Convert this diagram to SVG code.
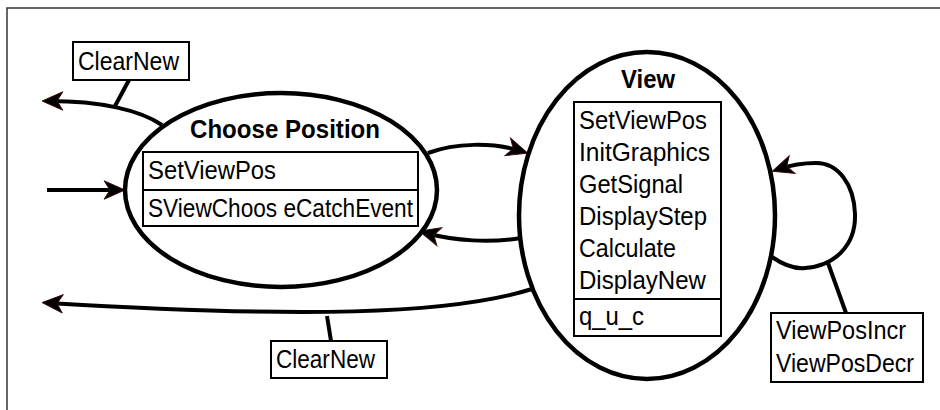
<svg xmlns="http://www.w3.org/2000/svg" width="940" height="410" viewBox="0 0 940 410">
<style>
.st{fill:#fff;stroke:#000;stroke-width:4.5}
.bx{fill:#fff;stroke:#000;stroke-width:2}
.t{font-family:"Liberation Sans",Arial,sans-serif;font-size:26px;fill:#000}
.h{font-family:"Liberation Sans",Arial,sans-serif;font-size:26px;font-weight:bold;fill:#000}
.c{fill:none;stroke:#000;stroke-width:4}
.l{fill:none;stroke:#000;stroke-width:4}
</style>
<defs>
<marker id="ah" markerUnits="userSpaceOnUse" orient="auto" markerWidth="30" markerHeight="30" refX="0" refY="0" viewBox="-16 -10 26 20" overflow="visible">
<path d="M6,0 L-12,-8 L-7,0 L-12,8 Z" fill="#000" stroke="#3a0808" stroke-width="0.8"/>
</marker>
</defs>
<rect x="7" y="8" width="960" height="440" fill="#fff" stroke="#333" stroke-width="1.5"/>
<g id="connectors">
<path class="c" d="M162,125 C140,110 100,101 49,101" marker-end="url(#ah)"/>
<path class="l" d="M129,80 L115,106"/>
<path class="c" d="M47,190 L118,190" marker-end="url(#ah)"/>
<path class="c" d="M428,153 C455,143 492,142 521,151" marker-end="url(#ah)"/>
<path class="c" d="M521,238 C490,243 455,241 426,233" marker-end="url(#ah)"/>
<path class="c" d="M532,289 C450,315 300,318 49,303" marker-end="url(#ah)"/>
<path class="l" d="M327,316 L331,341"/>
<path class="c" d="M772,257 C785,266 795,269 805,268 C835,266 856,245 855,214 C854,184 838,163 816,163 C800,163 788,166 779,169" marker-end="url(#ah)"/>
<path class="l" d="M828,263 L846,313"/>
</g>
<g id="choose-position">
<ellipse class="st" cx="281" cy="190" rx="156" ry="97"/>
<text class="h" x="285" y="138" text-anchor="middle" textLength="190" lengthAdjust="spacingAndGlyphs">Choose Position</text>
<rect class="bx" x="143" y="152" width="275" height="74"/>
<line x1="143" y1="190" x2="418" y2="190" stroke="#000" stroke-width="2"/>
<text class="t" x="148" y="179" textLength="128" lengthAdjust="spacingAndGlyphs">SetViewPos</text>
<text class="t" x="148" y="217" textLength="265" lengthAdjust="spacingAndGlyphs">SViewChoos eCatchEvent</text>
</g>
<g id="view">
<ellipse class="st" cx="647" cy="215.5" rx="128" ry="163.5"/>
<text class="h" x="648" y="88" text-anchor="middle" textLength="54" lengthAdjust="spacingAndGlyphs">View</text>
<rect class="bx" x="574" y="102" width="147" height="234"/>
<line x1="574" y1="299" x2="721" y2="299" stroke="#000" stroke-width="2"/>
<text class="t" x="579" y="129" textLength="128" lengthAdjust="spacingAndGlyphs">SetViewPos</text>
<text class="t" x="579" y="161" textLength="131" lengthAdjust="spacingAndGlyphs">InitGraphics</text>
<text class="t" x="579" y="193" textLength="104" lengthAdjust="spacingAndGlyphs">GetSignal</text>
<text class="t" x="579" y="225" textLength="128" lengthAdjust="spacingAndGlyphs">DisplayStep</text>
<text class="t" x="579" y="257" textLength="97" lengthAdjust="spacingAndGlyphs">Calculate</text>
<text class="t" x="579" y="289" textLength="127" lengthAdjust="spacingAndGlyphs">DisplayNew</text>
<text class="t" x="579" y="325" textLength="65" lengthAdjust="spacingAndGlyphs">q_u_c</text>
</g>
<g id="label-clearnew-top">
<rect class="bx" x="73" y="42" width="116" height="38"/>
<text class="t" x="78" y="70" textLength="101" lengthAdjust="spacingAndGlyphs">ClearNew</text>
</g>
<g id="label-clearnew-bottom">
<rect class="bx" x="271" y="341" width="116" height="37"/>
<text class="t" x="276" y="368" textLength="99" lengthAdjust="spacingAndGlyphs">ClearNew</text>
</g>
<g id="label-viewpos">
<rect class="bx" x="771" y="313" width="152" height="69"/>
<text class="t" x="776" y="339" textLength="130" lengthAdjust="spacingAndGlyphs">ViewPosIncr</text>
<text class="t" x="776" y="372" textLength="138" lengthAdjust="spacingAndGlyphs">ViewPosDecr</text>
</g>
</svg>
